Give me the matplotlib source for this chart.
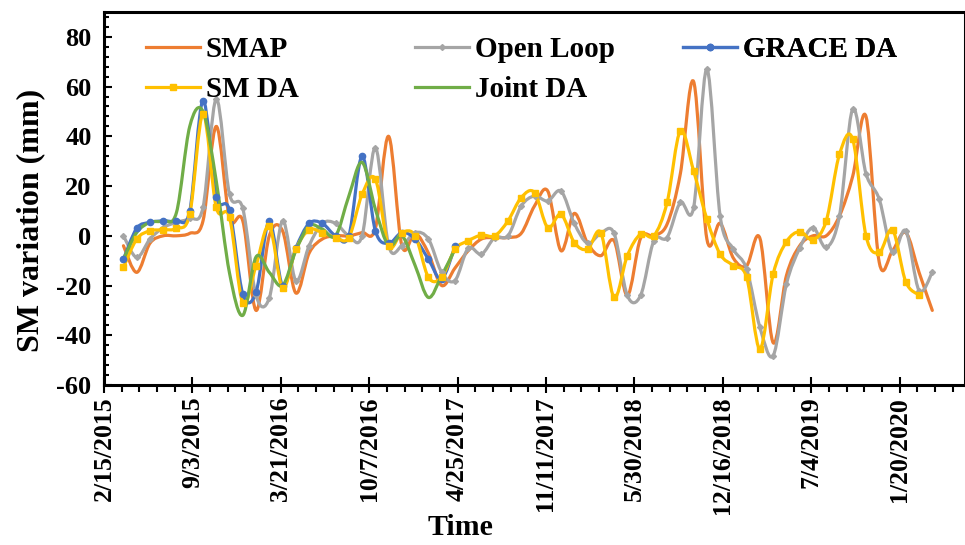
import numpy as np
import pandas as pd
import matplotlib
matplotlib.use("Agg")
import matplotlib.pyplot as plt
import matplotlib.dates as mdates
from matplotlib.path import Path
from matplotlib.patches import PathPatch
from matplotlib.lines import Line2D
from datetime import datetime, timedelta

plt.rcParams['axes.unicode_minus'] = False

# sampling dates (every 30 days)
dates = pd.date_range("2015-03-31", periods=62, freq="30D")

smap = [-4, -14.7, -3, 0, 0, 1, 6, 44, 7, 6, -30, 0, 2, -23, -7, -1.3, 0, 0, 1.3, 3,
        40, -4, 1, -7, -20, -13, -6, -1.3, -0.7, -0.7, 1, 12, 18, -6, 9, -3, -8, -2, -24, -1,
        0, 4.7, 25, 62, -1.3, 5, -9, -12, -1, -43, -16, -4, 0, 0, 8, 24, 48, -10.7, -6, 1.3,
        -14.7, -30]
open_loop = [0, -8.7, -1.3, 3.3, 5.4, 7, 11.4, 55, 16.7, 11, -24, -25, 6, -18, -4, 5, 5, 0, 0, 35.5,
             -4, -4, 1.3, -1.3, -14.7, -18, -5, -7.4, -0.7, 0, 12, 16, 14, 18, 5, -3, 1, 1, -24, -24,
             -2, -0.7, 13.4, 11.4, 67, 8, -5.4, -13.4, -36.8, -48.2, -19.4, -5, 3.3, -4.7, 8, 51, 25, 14.7, -6.7, 2,
             -22, -14.7]
sm_da = [-12.7, -1.3, 2, 2.4, 3, 8.7, 49, 11.4, 7.4, -27, -12, 4, -21, -5.4, 2.4, 1.3, -0.7, -0.7, 16.7, 22.8,
         -4, 1.3, 0, -16.7, -16.7, -5.4, -2, 0.3, 0, 6, 15.4, 17.4, 3.3, 8.7, -2.7, -5.4, 1.3, -24.8, -8, 0.7,
         0, 13.4, 42.2, 26.1, 6.7, -7.4, -12, -16.7, -45.5, -15.4, -2.4, 1.7, -1.6, 6, 32.8, 38.8, 0, -6.7, 2.4, -18.5,
         -23.8]
grace_da = [-9.4, 3, 5.4, 6, 6, 10, 54.4, 15.7, 10.3, -23.4, -22.7, 6, -20, -5, 5, 5, 0, 0, 32, 2,
            -3, 1.3, -1.3, -9.4, -17.4, -4.3]
joint_da = [-9.4, 1.3, 5.4, 6, 9.4, 44, 50, 22, -15, -32, -8.5, -14.7, -20, -6, 4, 2.7, 0, 16, 29.5, 10.7,
            -4, 0, -12, -24.8, -16, -5.4]

tick_dates = [datetime(2015, 2, 15) + timedelta(days=200 * k) for k in range(10)]
tick_labels = ['%d/%d/%d' % (d.month, d.day, d.year) for d in tick_dates]

c_smap = '#ED7D31'
c_ol = '#A5A5A5'
c_grace = '#4472C4'
c_sm = '#FFC000'
c_joint = '#70AD47'

font = 'Liberation Serif'


def smooth_path(x, y):
    # excel-like smoothed line: cubic bezier through every point
    pts = np.column_stack([x, y]).astype(float)
    n = len(pts)
    verts = [pts[0]]
    codes = [Path.MOVETO]
    for i in range(n - 1):
        p0 = pts[i - 1] if i > 0 else pts[i]
        p1 = pts[i]
        p2 = pts[i + 1]
        p3 = pts[i + 2] if i + 2 < n else pts[i + 1]
        verts += [p1 + (p2 - p0) / 6, p2 - (p3 - p1) / 6, p2]
        codes += [Path.CURVE4] * 3
    return Path(verts, codes)


def draw(ax, y, color, marker=None, ms=0):
    x = mdates.date2num(dates[:len(y)])
    ax.add_patch(PathPatch(smooth_path(x, y), fill=False, edgecolor=color, lw=2.3,
                           capstyle='round', joinstyle='round'))
    if marker:
        ax.plot(x, y, linestyle='none', marker=marker, ms=ms, color=color)


fig = plt.figure(figsize=(9.65, 5.45), dpi=100)
ax = fig.add_axes([104 / 965, 1 - 385 / 545, 861 / 965, 373 / 545])

draw(ax, smap, c_smap)
draw(ax, open_loop, c_ol, 'D', 3)
draw(ax, grace_da, c_grace, 'o', 4.5)
draw(ax, sm_da, c_sm, 's', 5)
draw(ax, joint_da, c_joint)

ax.set_xlim(mdates.date2num(datetime(2015, 2, 15)), mdates.date2num(datetime(2020, 6, 16)))
ax.set_ylim(-60, 90)
ax.set_yticks(np.arange(-60, 81, 20))
ax.set_yticks(np.arange(-60, 90, 4), minor=True)
ax.set_xticks(mdates.date2num(tick_dates))
ax.set_xticks(mdates.date2num([datetime(2015, 2, 15) + timedelta(days=40 * k) for k in range(49)]), minor=True)
ax.set_xticklabels(tick_labels, rotation=90, fontfamily=font, fontweight='bold', fontsize=18.5)
for t in ax.get_yticklabels():
    t.set_fontfamily(font)
    t.set_fontweight('bold')
    t.set_fontsize(19)

ax.tick_params(axis='x', which='major', direction='inout', length=11, width=1.5, pad=3)
ax.tick_params(axis='x', which='minor', direction='out', length=5, width=1.5)
ax.tick_params(axis='y', which='major', direction='in', length=6, width=1.5, pad=9)
ax.tick_params(axis='y', which='minor', direction='in', length=3.5, width=1.5)
for s in ax.spines.values():
    s.set_linewidth(2.2)

ax.set_xlabel('Time', fontfamily=font, fontweight='bold', fontsize=21.5)
ax.xaxis.set_label_coords(0.414, -0.345)
ax.set_ylabel('SM variation (mm)', fontfamily=font, fontweight='bold', fontsize=23)
ax.yaxis.set_label_coords(-0.068, 0.44)

prop = {'family': font, 'weight': 'bold', 'size': 21}
cols = [
    ([Line2D([], [], color=c_smap, lw=2.3), Line2D([], [], color=c_sm, lw=2.3, marker='s', ms=5)],
     ['SMAP', 'SM DA'], 146),
    ([Line2D([], [], color=c_ol, lw=2.3, marker='D', ms=3), Line2D([], [], color=c_joint, lw=2.3)],
     ['Open Loop', 'Joint DA'], 415),
    ([Line2D([], [], color=c_grace, lw=2.3, marker='o', ms=4.5)], ['GRACE DA'], 683),
]
for handles, labels, px in cols:
    leg = ax.legend(handles, labels, loc='upper left', bbox_to_anchor=(px / 965, 1 - 36 / 545),
                    bbox_transform=fig.transFigure, frameon=False, borderpad=0, borderaxespad=0,
                    handlelength=1.85, handletextpad=0.2, labelspacing=0.45, prop=prop)
    ax.add_artist(leg)

fig.savefig('out.png', dpi=100)
